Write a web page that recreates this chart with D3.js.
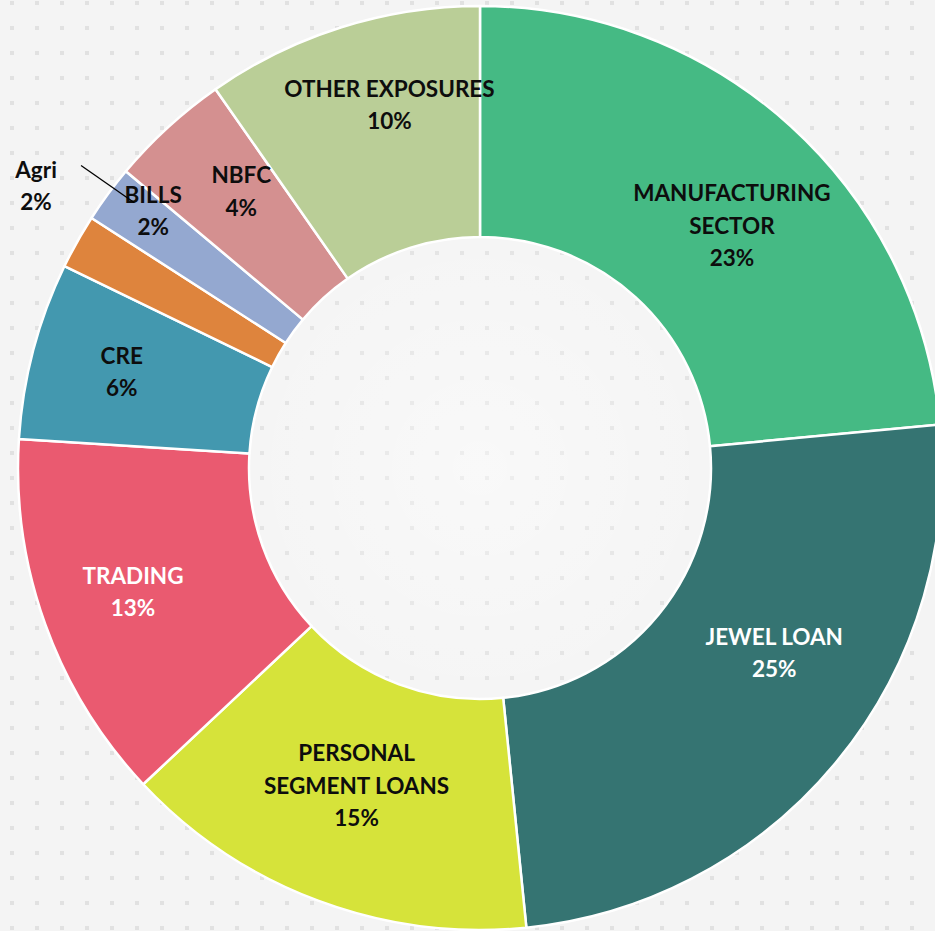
<!DOCTYPE html>
<html>
<head>
<meta charset="utf-8">
<script src="https://cdn.jsdelivr.net/npm/d3@7"></script>
<style>
	html, body {margin: 0; padding: 0; background: #f4f4f4;}
	svg {display: block;}
	.label {font-family: Lato, "Open Sans", sans-serif; font-weight: 700; font-size: 22.5px;}
</style>
</head>
<body>
<svg></svg>
<script>
// Kategorien (Zeilen der Beschriftung), Anteile in % und angezeigte Prozenttexte
let categories = [["MANUFACTURING", "SECTOR"], ["JEWEL LOAN"], ["PERSONAL", "SEGMENT LOANS"],
	["TRADING"], ["CRE"], ["Agri"], ["BILLS"], ["NBFC"], ["OTHER EXPOSURES"]];
let shares = [23.5, 24.9, 14.6, 13.0, 6.2, 1.9, 2.0, 4.2, 9.7];
let pctLabels = ["23%", "25%", "15%", "13%", "6%", "2%", "2%", "4%", "10%"];
let colors = ["#45ba84", "#357472", "#d6e33a", "#ea5a70", "#4398af", "#de843d", "#94a8d0", "#d49090", "#bace97"];
let textColors = ["#0d0d0d", "#ffffff", "#0d0d0d", "#ffffff", "#0d0d0d", "#0d0d0d", "#0d0d0d", "#0d0d0d", "#0d0d0d"];

documentInit();

function documentInit() {
	let svgWidth = 935;
	let svgHeight = 931;
	let svg = d3.select("svg").attr("width", svgWidth).attr("height", svgHeight);

	let cx = 480, cy = 468;
	let outerR = 462, innerR = 231, labelR = 355;

	//Hintergrund mit Punktraster
	let defs = svg.append("defs");
	let pat = defs.append("pattern")
		.attr("id", "dots")
		.attr("patternUnits", "userSpaceOnUse")
		.attr("x", 10).attr("y", 1)
		.attr("width", 25).attr("height", 25);
	pat.append("rect").attr("x", 0).attr("y", 0).attr("width", 4).attr("height", 4)
		.attr("fill", "#dcdcdc").attr("opacity", 0.8);
	let glow = defs.append("radialGradient").attr("id", "glow");
	glow.append("stop").attr("offset", "0%").attr("stop-color", "#ffffff").attr("stop-opacity", 0.45);
	glow.append("stop").attr("offset", "100%").attr("stop-color", "#ffffff").attr("stop-opacity", 0);

	svg.append("rect").attr("width", svgWidth).attr("height", svgHeight).attr("fill", "#f4f4f4");
	svg.append("rect").attr("width", svgWidth).attr("height", svgHeight).attr("fill", "url(#dots)");
	svg.append("circle").attr("cx", cx).attr("cy", cy).attr("r", 300).attr("fill", "url(#glow)");

	let data = categories.map(function(c, i) {
		return {lines: c, value: shares[i], pct: pctLabels[i], color: colors[i], text: textColors[i]};
	});

	let pie = d3.pie().sort(null).value(function(d) {return d.value;});
	let arc = d3.arc().innerRadius(innerR).outerRadius(outerR);
	let labelArc = d3.arc().innerRadius(labelR).outerRadius(labelR);

	let canvas = svg.append("g").attr("transform", "translate(" + cx + "," + cy + ")");
	let arcs = pie(data);

	canvas.selectAll(".slice")
		.data(arcs)
		.enter()
		.append("path")
			.attr("class", "slice")
			.attr("d", arc)
			.attr("fill", function(d) {return d.data.color;})
			.attr("stroke", "#ffffff")
			.attr("stroke-width", 2.5)
			.attr("stroke-linejoin", "round");

	//Verschiebung der Beschriftungen relativ zum Schwerpunkt (wie in Excel)
	let nudges = [[13, 20], [20, -41], [1, -15], [-13, 3], [-15, -6], [-134.5, -108.5], [-41, -47], [1, -15], [16, -25]];
	let lineGap = 32.5, capHalf = 8.5;

	let labels = canvas.selectAll(".label")
		.data(arcs)
		.enter()
		.append("text")
			.attr("class", "label")
			.attr("text-anchor", "middle")
			.attr("fill", function(d) {return d.data.text;});

	labels.each(function(d, i) {
		let c = labelArc.centroid(d);
		let x = c[0] + nudges[i][0];
		let y = c[1] + nudges[i][1];
		let lines = d.data.lines.concat([d.data.pct]);
		let y0 = y - (lines.length - 1) * lineGap / 2 + capHalf;
		let t = d3.select(this);
		lines.forEach(function(l, k) {
			t.append("tspan").attr("x", x).attr("y", y0 + k * lineGap).text(l);
		});
		//Fuehrungslinie fuer Agri
		if (d.data.lines[0] === "Agri") {
			canvas.append("line")
				.attr("x1", x + 45).attr("y1", y - 20)
				.attr("x2", x + 98).attr("y2", y + 17)
				.attr("stroke", "#000000")
				.attr("stroke-width", 1.3);
		}
	});
}
</script>
</body>
</html>
